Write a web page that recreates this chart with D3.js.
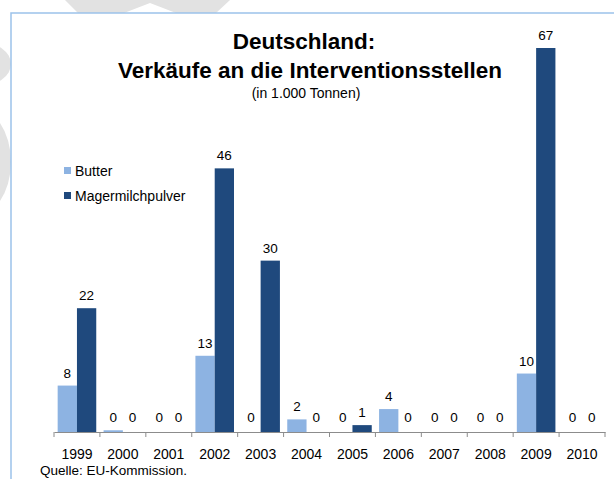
<!DOCTYPE html>
<meta charset="utf-8">
<style>
body { margin: 0; background: #fff; }
svg { display: block; font-family: "Liberation Sans", Arial, sans-serif; }
.val { font-size: 13.5px; text-anchor: middle; fill: #000; }
.axis text { font-size: 14px; fill: #000; }
</style>
<svg width="614" height="479"></svg>
<script src="https://d3js.org/d3.v7.min.js"></script>
<script>

// data
var years = ["1999", "2000", "2001", "2002", "2003", "2004", "2005", "2006", "2007", "2008", "2009", "2010"];
var butter = [8.1, 0.3, 0, 13.3, 0, 2.2, 0, 4.0, 0, 0, 10.2, 0];
var magermilch = [21.6, 0, 0, 46.0, 29.9, 0, 1.2, 0, 0, 0, 67.0, 0];
var seriesNames = ["Butter", "Magermilchpulver"];
var colors = ["#8db3e2", "#1f497d"];

var svg = d3.select("svg");

// faint watermark behind the frame
svg.append("path")
    .attr("d", "M65,0 L230,0 L216,13 L176,13 L150,3 L124,13 L78,13 Z")
    .attr("fill", "#e2e2e2");
svg.append("ellipse").attr("cx", -20).attr("cy", 64).attr("rx", 31).attr("ry", 22).attr("fill", "#e2e2e2");
svg.append("ellipse").attr("cx", -28).attr("cy", 162).attr("rx", 39).attr("ry", 56).attr("fill", "#e2e2e2");

// chart frame
svg.append("rect")
    .attr("x", 11).attr("y", 13)
    .attr("width", 614).attr("height", 479)
    .attr("fill", "#fff")
    .attr("stroke", "#9cc2ea")
    .attr("stroke-width", 1.5);

var x = d3.scaleBand().domain(years).range([54, 605]);
var x1 = d3.scaleBand().domain(seriesNames).range([0, x.bandwidth()]).paddingOuter(0.19);
var y = d3.scaleLinear().domain([0, 67]).range([432, 48]);

var rows = years.map(function(yr, i) {
  return { year: yr, values: [butter[i], magermilch[i]] };
});

var g = svg.selectAll(".grp")
    .data(rows)
  .enter().append("g")
    .attr("class", "grp")
    .attr("transform", function(d) { return "translate(" + x(d.year) + ",0)"; });

var bars = g.selectAll(".bar")
    .data(function(d) { return d.values.map(function(v, k) { return { key: seriesNames[k], v: v, k: k }; }); })
  .enter();

bars.append("rect")
    .attr("x", function(d) { return x1(d.key); })
    .attr("width", x1.bandwidth())
    .attr("y", function(d) { return y(d.v); })
    .attr("height", function(d) { return y(0) - y(d.v); })
    .attr("fill", function(d) { return colors[d.k]; });

bars.append("text")
    .attr("class", "val")
    .attr("x", function(d) { return x1(d.key) + x1.bandwidth() / 2; })
    .attr("y", function(d) { return Math.min(y(d.v), y(0) - 2) - 8; })
    .text(function(d) { return d3.format(".0f")(d.v); });

// axis: labels centred, ticks on category boundaries
var axis = svg.append("g")
    .attr("class", "axis")
    .attr("transform", "translate(0,432)")
    .call(d3.axisBottom(x).tickSize(0).tickPadding(17));
axis.select(".domain").attr("stroke", "#8c8c8c");
axis.selectAll(".tick")
  .append("line")
    .attr("x1", -x.bandwidth() / 2).attr("x2", -x.bandwidth() / 2)
    .attr("y2", 5).attr("stroke", "#8c8c8c");
axis.append("line")
    .attr("x1", x.range()[1]).attr("x2", x.range()[1])
    .attr("y2", 5).attr("stroke", "#8c8c8c");
axis.selectAll("text").attr("font-family", null);

// title
svg.append("text").attr("x", 304).attr("y", 49)
    .attr("text-anchor", "middle").style("font-size", "22.5px").style("font-weight", "bold")
    .text("Deutschland:");
svg.append("text").attr("x", 310).attr("y", 78)
    .attr("text-anchor", "middle").style("font-size", "22.5px").style("font-weight", "bold")
    .text("Verkäufe an die Interventionsstellen");
svg.append("text").attr("x", 306).attr("y", 98)
    .attr("text-anchor", "middle").style("font-size", "14px")
    .text("(in 1.000 Tonnen)");

// legend
var legend = svg.selectAll(".legend")
    .data(seriesNames)
  .enter().append("g")
    .attr("class", "legend")
    .attr("transform", function(d, i) { return "translate(64," + (167 + i * 25) + ")"; });
legend.append("rect")
    .attr("width", 7).attr("height", 7)
    .attr("fill", function(d, i) { return colors[i]; });
legend.append("text")
    .attr("x", 11).attr("y", 9)
    .style("font-size", "14px")
    .text(function(d) { return d; });

// source
svg.append("text").attr("x", 40).attr("y", 475)
    .style("font-size", "13.5px")
    .text("Quelle: EU-Kommission.");

</script>
